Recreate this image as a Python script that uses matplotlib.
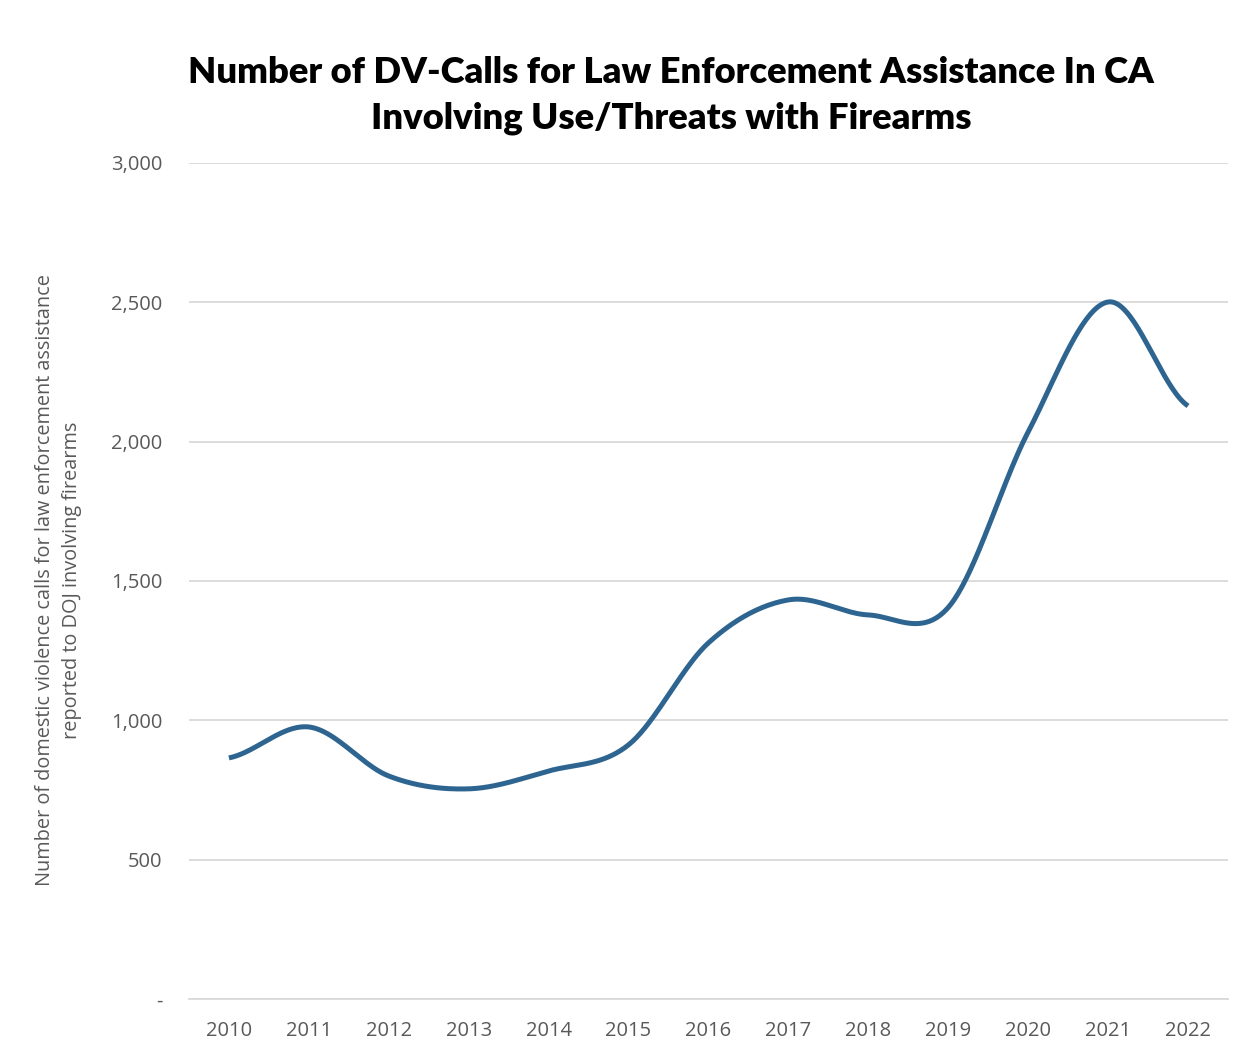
import matplotlib as mpl
import matplotlib.pyplot as plt
import numpy as np
from matplotlib.ticker import FuncFormatter

mpl.rcParams['font.family'] = 'Open Sans'

years = ['2010', '2011', '2012', '2013', '2014', '2015', '2016',
         '2017', '2018', '2019', '2020', '2021', '2022']
calls = [865, 976, 800, 754, 818, 912, 1278, 1432, 1378, 1405, 2035, 2501, 2128]


# ---------smoothed line (catmull-rom, like excel)--------------
def smooth(y, n=40):
    y = np.asarray(y, dtype=float)
    p = np.concatenate([[y[0]], y, [y[-1]]])
    xs, ys = [], []
    for i in range(len(y) - 1):
        p0, p1, p2, p3 = p[i], p[i + 1], p[i + 2], p[i + 3]
        t = np.linspace(0, 1, n, endpoint=False)
        b1 = p1 + (p2 - p0) / 6
        b2 = p2 - (p3 - p1) / 6
        yy = (1 - t) ** 3 * p1 + 3 * (1 - t) ** 2 * t * b1 + 3 * (1 - t) * t ** 2 * b2 + t ** 3 * p2
        xs.append(i + t)
        ys.append(yy)
    xs.append([len(y) - 1])
    ys.append([y[-1]])
    return np.concatenate(xs), np.concatenate(ys)


sx, sy = smooth(calls)

fig = plt.figure(figsize=(12.48, 10.51), dpi=100)
ax = fig.add_axes([0.1514, 0.0495, 0.8326, 0.7955])

ax.plot(sx, sy, color='#2E6590', lw=3.6, solid_capstyle='butt')

ax.set_xlim(-0.5, len(years) - 0.5)
ax.set_ylim(0, 3000)
ax.set_xticks(range(len(years)))
ax.set_xticklabels(years)
ax.set_yticks(np.arange(0, 3001, 500))
ax.yaxis.set_major_formatter(FuncFormatter(lambda v, _: '-' if v == 0 else f'{int(v):,}'))
ax.grid(axis='y', color='#D9D9D9', lw=1.3)
ax.set_axisbelow(True)
for s in ['top', 'right', 'left']:
    ax.spines[s].set_visible(False)
ax.spines['bottom'].set_color('#D9D9D9')
ax.spines['bottom'].set_linewidth(1.3)
ax.tick_params(length=0, labelsize=14.5, colors='#595959')
ax.tick_params(axis='x', pad=16)
ax.tick_params(axis='y', pad=19)

fig.text(0.047, 0.448, "Number of domestic violence calls for law enforcement assistance\nreported to DOJ involving firearms",
         rotation=90, ha='center', va='center', fontsize=14.3, color='#595959', linespacing=1.45)

fig.text(0.538, 0.909, "Number of DV-Calls for Law Enforcement Assistance In CA\nInvolving Use/Threats with Firearms",
         ha='center', va='center', fontsize=26.2, fontweight='heavy', family='Lato', linespacing=1.48)

fig.savefig("out.png", dpi=100)
